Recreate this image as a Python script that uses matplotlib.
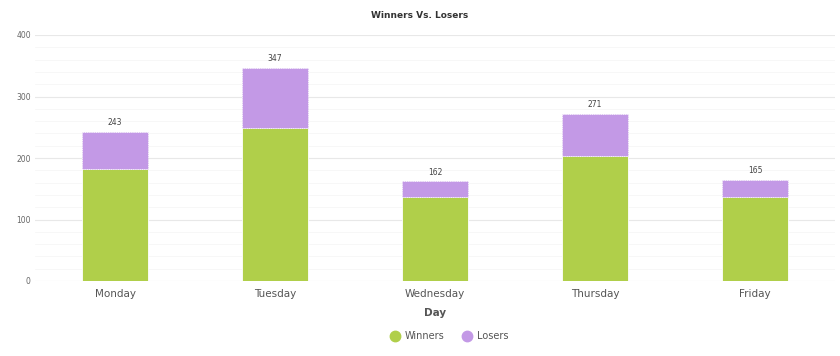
import numpy as np
import matplotlib.pyplot as plt
from matplotlib.lines import Line2D

# data
days = ["Monday", "Tuesday", "Wednesday", "Thursday", "Friday"]
winners = [182, 249, 136, 203, 137]
losers = [61, 98, 26, 68, 28]
totals = [243, 347, 162, 271, 165]

green = "#B0CF4A"
purple = "#C399E6"

fig = plt.figure(figsize=(8.4, 3.56), dpi=100)
ax = fig.add_axes([35 / 840, 75 / 356, 800 / 840, 246 / 356])

x = np.arange(len(days))
ax.bar(x, winners, width=0.41, color=green, edgecolor="white", linewidth=0.6, zorder=3)
ax.bar(x, losers, width=0.41, bottom=winners, color=purple, edgecolor="white",
       linewidth=0.6, linestyle=":", zorder=3)

for xi, t in zip(x, totals):
    ax.annotate(str(t), (xi, t), xytext=(0, 3.5), textcoords="offset points",
                ha="center", va="bottom", fontsize=5.5, color="#444444")

ax.set_xlim(-0.5, len(days) - 0.5)
ax.set_ylim(0, 400)
ax.set_yticks([0, 100, 200, 300, 400])
ax.set_yticks(np.arange(0, 401, 20), minor=True)
ax.grid(axis="y", which="major", color="#e8e8e8", linewidth=0.8, zorder=0)
ax.grid(axis="y", which="minor", color="#f6f6f6", linewidth=0.6, zorder=0)
ax.tick_params(axis="y", which="both", length=0, labelsize=5.5, labelcolor="#666666", pad=3)
ax.tick_params(axis="x", length=0, labelsize=7.5, labelcolor="#555555", pad=6)
ax.set_xticks(x)
ax.set_xticklabels(days)
for s in ax.spines.values():
    s.set_visible(False)

ax.set_xlabel("Day", fontsize=7.5, fontweight="bold", color="#555555", labelpad=6)
fig.text(0.5, 1 - 15 / 356, "Winners Vs. Losers", ha="center", va="center",
         fontsize=6.5, fontweight="bold", color="#333333")

handles = [
    Line2D([], [], marker="o", linestyle="", markersize=7.5, color=green),
    Line2D([], [], marker="o", linestyle="", markersize=7.5, color=purple),
]
leg = fig.legend(handles, ["Winners", "Losers"], loc="center",
                 bbox_to_anchor=(0.535, 1 - 336 / 356), ncol=2, frameon=False,
                 fontsize=7, handletextpad=0.5, columnspacing=1.8, handlelength=1.0)
for t in leg.get_texts():
    t.set_color("#555555")

fig.savefig("out.png", dpi=100)
